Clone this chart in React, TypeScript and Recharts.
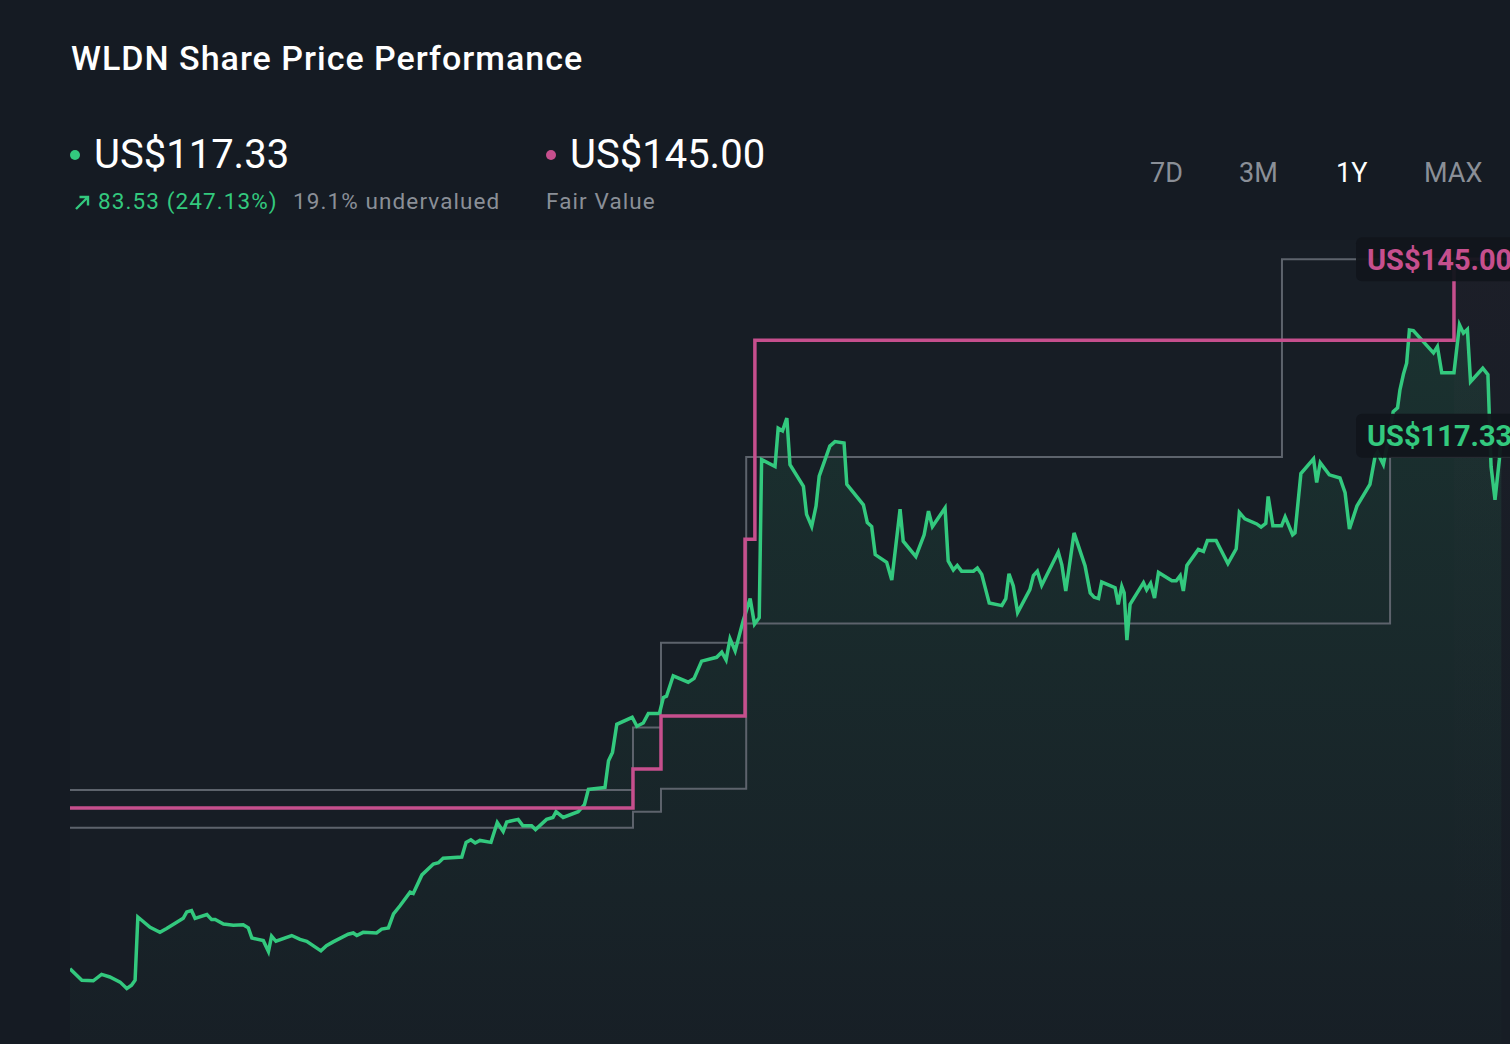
import { ComposedChart, Area, Line, XAxis, YAxis, ReferenceArea, ReferenceDot } from 'recharts';

const ticker = 'WLDN';
const lastPrice = 117.33;
const fairValue = 145.0;
const priceChange = 83.53;
const priceChangePct = 247.13;
const undervaluedPct = 19.1;
const rangeButtons = ['7D', '3M', '1Y', 'MAX'];
const activeRange = '1Y';

// [day, close]
const priceSeries: [number, number][] = [
  [0, 33.8], [3, 32.0], [5.9, 31.9], [8, 32.9], [10.1, 32.5], [12.7, 31.7], [14.4, 30.7], [15.6, 31.2],
  [16.5, 32.0], [17.2, 41.9], [20.3, 40.3], [22.8, 39.5], [24.5, 40.1], [28.7, 41.7], [29.6, 42.7], [30.8, 42.9],
  [31.7, 41.7], [34.7, 42.3], [35.9, 41.5], [36.8, 41.5], [38.9, 40.8], [41.4, 40.6], [43.9, 40.7], [45.2, 40.2],
  [46.1, 38.6], [49, 38.2], [50.3, 36.5], [51.1, 38.9], [52.2, 38.1], [56.2, 39.0], [58.3, 38.4], [60, 38.1],
  [63.6, 36.6], [65, 37.4], [66.7, 38.0], [70.5, 39.2], [71.8, 39.4], [72.7, 39.0], [74.3, 39.5], [77.7, 39.4],
  [79, 40.0], [80.7, 40.2], [82, 42.4], [83.7, 43.7], [86.2, 45.8], [87, 45.6], [89.2, 48.5], [92.1, 50.2],
  [93.4, 50.4], [94.6, 51.1], [99.3, 51.3], [100.4, 53.6], [101.6, 54.0], [102.7, 53.5], [103.9, 53.9], [106.7, 53.6],
  [108.3, 56.7], [109.8, 55.3], [110.7, 56.8], [113.6, 57.2], [114.8, 56.2], [117, 56.2], [118, 55.6], [120.8, 57.2],
  [122.4, 57.5], [123.2, 58.4], [125, 57.5], [128.8, 58.4], [130.4, 59.5], [131.4, 61.9], [135.6, 62.2], [136.5, 66.4],
  [137.5, 67.7], [138.6, 72.1], [142.5, 73.2], [143.7, 71.8], [145.3, 72.3], [146.6, 73.8], [149.4, 73.8], [150.4, 76.3],
  [151.2, 76.5], [152.9, 79.7], [156.7, 78.7], [158.2, 79.3], [160.1, 82.0], [163.9, 82.6], [165.2, 83.4], [166.3, 82.2],
  [167.3, 85.5], [168.6, 83.6], [170.7, 88.5], [172.4, 91.8], [173.5, 87.8], [174.7, 88.8], [175.3, 113.6], [178.7, 112.5],
  [179.5, 118.5], [180.6, 118.1], [181.7, 120.1], [182.5, 112.8], [185.9, 109.4], [186.7, 105.0], [188, 103.1], [189.1, 106.3],
  [189.9, 111.0], [192.6, 115.7], [193.9, 116.4], [196.2, 116.2], [196.9, 109.7], [201.1, 106.5], [202.1, 103.7], [203.2, 103.1],
  [204.1, 98.7], [207, 97.5], [208.3, 94.7], [210.4, 105.8], [211.2, 100.8], [214.4, 98.4], [216.5, 101.8], [217.6, 105.5],
  [218.6, 103.1], [221.8, 106.0], [222.6, 97.7], [223.9, 96.3], [224.9, 97.0], [226, 96.1], [229, 96.1], [230, 96.6],
  [231.1, 95.6], [233, 91.1], [236.2, 90.7], [237.2, 91.8], [238, 95.7], [239.1, 93.8], [240.2, 89.6], [243.3, 93.2],
  [244.2, 95.4], [245.2, 96.1], [246.3, 93.9], [250.5, 99.1], [251.4, 97.1], [252.4, 93.0], [254.5, 102.1], [257.3, 96.9],
  [258.6, 92.7], [259.6, 92.0], [260.7, 91.8], [261.5, 94.4], [264.9, 93.5], [265.7, 90.9], [266.6, 93.7], [267.2, 92.7],
  [267.9, 85.3], [268.7, 90.9], [272.1, 94.3], [272.9, 93.2], [273.9, 94.2], [274.9, 91.9], [275.9, 95.9], [279.3, 94.6],
  [280.4, 94.6], [281.4, 95.4], [282.2, 93.0], [283.1, 97.0], [286, 99.5], [287.3, 99.2], [288.3, 100.9], [290.5, 100.9],
  [293.5, 97.3], [295.6, 99.6], [296.4, 105.3], [297.8, 104.3], [300.8, 103.5], [301.9, 103.0], [303.1, 103.6], [303.7, 107.8],
  [304.9, 103.2], [307.1, 103.2], [308, 104.6], [309.9, 101.8], [310.5, 102.1], [312, 111.4], [315.2, 113.7], [316, 110.0],
  [316.9, 113.1], [319.2, 111.2], [321.9, 110.7], [323.2, 108.4], [324.3, 102.7], [326.2, 106.3], [329.5, 109.7], [330.8, 114.1],
  [331.4, 114.7], [332.9, 112.8], [333.8, 115.7], [335.4, 121.1], [336.5, 121.7], [337.1, 124.5], [338, 127.0], [338.8, 128.7],
  [339.5, 133.9], [340.5, 133.8], [345.6, 130.3], [346.6, 131.3], [347.7, 127.2], [350.8, 127.2], [352.2, 134.7], [353.2, 133.4],
  [354.2, 134.0], [355, 125.8], [358.1, 127.9], [359.4, 126.9], [360.2, 112.5], [361.2, 107.3], [362.3, 113.6], [362.8, 117.33],
];

// fair value estimate history [day, value]
const fairValueSteps: [number, number][] = [
  [0, 59.0], [142.7, 65.1], [149.8, 73.4], [171.1, 101.1], [173.6, 132.3], [350.8, 145.0], [365, 145.0],
];

// analyst target range history [day, value]
const analystHighSteps: [number, number][] = [
  [0, 61.8], [142.7, 71.6], [149.8, 84.9], [171.4, 114.0], [307.2, 145.0], [365, 145.0],
];
const analystLowSteps: [number, number][] = [
  [0, 55.9], [142.7, 58.4], [149.8, 62.0], [171.4, 87.9], [334.6, 114.0], [365, 114.0],
];

const GREEN = '#33c97e';
const PINK = '#c64f8d';
const GREY_LINE = '#5d636c';
const GREY_TEXT = '#8a8f97';
const BG = '#151b23';
const FONT = "Roboto, 'Noto Sans', sans-serif";

const toRows = (pts: [number, number][]) => pts.map(([day, value]) => ({ day, value }));

const priceRows = toRows(priceSeries);
const fairRows = toRows(fairValueSteps);
const highRows = toRows(analystHighSteps);
const lowRows = toRows(analystLowSteps);

const fmt = (v: number) => `US$${v.toFixed(2)}`;

const PriceTag = ({ cx, cy, text, color }: any) => (
  <g>
    <rect x={cx - 154} y={cy - 22} width={170} height={44} rx={6} fill="#11151b" fillOpacity={0.95} />
    <text
      x={cx - 143}
      y={cy + 10.5}
      fontSize={29}
      fontWeight={700}
      fill={color}
      fontFamily={FONT}
    >
      {text}
    </text>
  </g>
);

const Header = () => (
  <svg width={1510} height={240} style={{ position: 'absolute', left: 0, top: 0 }}>
    <text x={71} y={70} fontSize={34} fontWeight={500} fill="#ffffff" fontFamily={FONT} letterSpacing={1}>
      {ticker} Share Price Performance
    </text>

    <circle cx={75} cy={155} r={5} fill={GREEN} />
    <text x={94} y={168} fontSize={40} fill="#ffffff" fontFamily={FONT}>
      {fmt(lastPrice)}
    </text>
    <path d="M76 209 L88 197 M79.5 197 L88 197 L88 205.5" stroke={GREEN} strokeWidth={2.4} fill="none" />
    <text x={98} y={209} fontSize={22.5} fill={GREEN} fontFamily={FONT} letterSpacing={1.1}>
      {priceChange.toFixed(2)} ({priceChangePct.toFixed(2)}%)
    </text>
    <text x={293} y={209} fontSize={22.5} fill={GREY_TEXT} fontFamily={FONT} letterSpacing={1.1}>
      {undervaluedPct}% undervalued
    </text>

    <circle cx={551} cy={155} r={5} fill={PINK} />
    <text x={570} y={168} fontSize={40} fill="#ffffff" fontFamily={FONT}>
      {fmt(fairValue)}
    </text>
    <text x={546} y={209} fontSize={22.5} fill={GREY_TEXT} fontFamily={FONT} letterSpacing={1.1}>
      Fair Value
    </text>

    {rangeButtons.map((label, i) => (
      <text
        key={label}
        x={[1150, 1239, 1336, 1424][i]}
        y={182}
        fontSize={27}
        fill={label === activeRange ? '#ffffff' : GREY_TEXT}
        fontFamily={FONT}
      >
        {label}
      </text>
    ))}
  </svg>
);

export default function App() {
  return (
    <div
      style={{
        position: 'absolute',
        left: 0,
        top: 0,
        width: 1510,
        height: 1044,
        background: BG,
        overflow: 'hidden',
        fontFamily: FONT,
      }}
    >
      <div style={{ position: 'absolute', left: 0, top: 0 }}>
        <ComposedChart width={1510} height={1044} margin={{ top: 240, right: 0, bottom: 0, left: 70 }}>
          <defs>
            <linearGradient id="priceFill" x1="0" y1="0" x2="0" y2="1">
              <stop offset="0%" stopColor={GREEN} stopOpacity={0.2} />
              <stop offset="100%" stopColor={GREEN} stopOpacity={0.02} />
            </linearGradient>
            <linearGradient id="fvBand" x1="0" y1="0" x2="0" y2="1">
              <stop offset="0%" stopColor={PINK} stopOpacity={0.06} />
              <stop offset="40%" stopColor={PINK} stopOpacity={0.02} />
              <stop offset="100%" stopColor={PINK} stopOpacity={0} />
            </linearGradient>
          </defs>
          <XAxis type="number" dataKey="day" domain={[0, 365]} allowDataOverflow hide />
          <YAxis type="number" domain={[22, 148]} allowDataOverflow hide />
          <ReferenceArea x1={0} x2={365} y1={22} y2={148} fill="#ffffff" fillOpacity={0.012} stroke="none" />
          <ReferenceArea x1={350.8} x2={365} y1={22} y2={148} fill="url(#fvBand)" stroke="none" />
          <Area
            data={priceRows}
            dataKey="value"
            type="linear"
            stroke="none"
            fill="url(#priceFill)"
            isAnimationActive={false}
          />
          <Line data={highRows} dataKey="value" type="stepAfter" stroke={GREY_LINE} strokeWidth={2} dot={false} isAnimationActive={false} />
          <Line data={lowRows} dataKey="value" type="stepAfter" stroke={GREY_LINE} strokeWidth={2} dot={false} isAnimationActive={false} />
          <Line data={priceRows} dataKey="value" type="linear" stroke={GREEN} strokeWidth={3.5} dot={false} isAnimationActive={false} />
          <Line data={fairRows} dataKey="value" type="stepAfter" stroke={PINK} strokeWidth={3.5} dot={false} isAnimationActive={false} />
          <ReferenceDot
            x={365}
            y={fairValue}
            r={0}
            shape={(p: any) => <PriceTag cx={p.cx} cy={p.cy} text={fmt(fairValue)} color={PINK} />}
          />
          <ReferenceDot
            x={365}
            y={lastPrice}
            r={0}
            shape={(p: any) => <PriceTag cx={p.cx} cy={p.cy} text={fmt(lastPrice)} color={GREEN} />}
          />
        </ComposedChart>
      </div>
      <Header />
    </div>
  );
}
